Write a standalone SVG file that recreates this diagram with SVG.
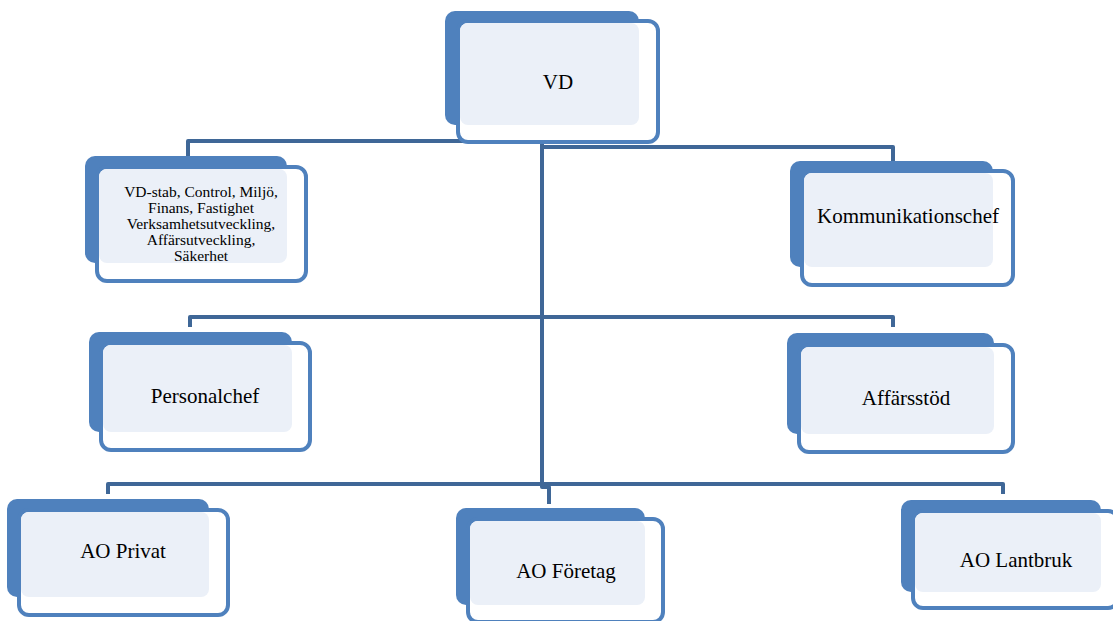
<svg xmlns="http://www.w3.org/2000/svg" width="1113" height="621" viewBox="0 0 1113 621">
<style>
.back{fill:#4f81bd;}
.front{fill:#ffffff;stroke:#4f81bd;stroke-width:4;}
.light{fill:#ebf0f8;}
.conn{fill:none;stroke:#3f6797;stroke-width:4;stroke-linejoin:round;}
text{font-family:"Liberation Serif","Times New Roman",serif;fill:#000;text-anchor:middle;}
.t{font-size:21px;}
.s{font-size:15.5px;}
</style>
<rect width="1113" height="621" fill="#ffffff"/>
<g id="connectors">
<path class="conn" d="M542 141 H188 V157"/>
<path class="conn" d="M542 147 H893 V161"/>
<path class="conn" d="M542 141 V487 H549 V504"/>
<path class="conn" d="M190 327 V317 H893 V327"/>
<path class="conn" d="M108 494 V484 H1003 V494"/>
</g>
<g id="vd">
<rect class="back" x="445" y="11" width="194" height="114" rx="10"/>
<rect class="front" x="458" y="21" width="200" height="121" rx="10"/>
<rect class="light" x="460" y="23" width="179" height="102" rx="8"/>
<text class="t" x="558" y="89">VD</text>
</g>
<g id="vd-stab">
<rect class="back" x="85" y="156" width="202" height="107" rx="10"/>
<rect class="front" x="97" y="167" width="209" height="114" rx="10"/>
<rect class="light" x="99" y="169" width="188" height="94" rx="8"/>
<text class="s" x="201" y="197">VD-stab, Control, Miljö,</text>
<text class="s" x="201" y="213">Finans, Fastighet</text>
<text class="s" x="201" y="229">Verksamhetsutveckling,</text>
<text class="s" x="201" y="245">Affärsutveckling,</text>
<text class="s" x="201" y="261">Säkerhet</text>
</g>
<g id="kommunikationschef">
<rect class="back" x="790" y="161" width="203" height="106" rx="10"/>
<rect class="front" x="802" y="171" width="211" height="114" rx="10"/>
<rect class="light" x="804" y="173" width="189" height="94" rx="8"/>
<text class="t" x="908" y="223">Kommunikationschef</text>
</g>
<g id="personalchef">
<rect class="back" x="89" y="332" width="203" height="100" rx="10"/>
<rect class="front" x="101" y="343" width="209" height="107" rx="10"/>
<rect class="light" x="103" y="345" width="189" height="87" rx="8"/>
<text class="t" x="205" y="403">Personalchef</text>
</g>
<g id="affarsstod">
<rect class="back" x="787" y="333" width="207" height="101" rx="10"/>
<rect class="front" x="799" y="345" width="214" height="107" rx="10"/>
<rect class="light" x="801" y="347" width="193" height="87" rx="8"/>
<text class="t" x="906" y="405">Affärsstöd</text>
</g>
<g id="ao-privat">
<rect class="back" x="7" y="499" width="202" height="98" rx="10"/>
<rect class="front" x="19" y="510" width="209" height="105" rx="10"/>
<rect class="light" x="21" y="512" width="188" height="85" rx="8"/>
<text class="t" x="123" y="558">AO Privat</text>
</g>
<g id="ao-foretag">
<rect class="back" x="456" y="508" width="189" height="97" rx="10"/>
<rect class="front" x="468" y="519" width="195" height="103" rx="10"/>
<rect class="light" x="470" y="521" width="175" height="84" rx="8"/>
<text class="t" x="566" y="578">AO Företag</text>
</g>
<g id="ao-lantbruk">
<rect class="back" x="901" y="500" width="200" height="92" rx="10"/>
<rect class="front" x="913" y="511" width="205" height="97" rx="10"/>
<rect class="light" x="915" y="513" width="186" height="79" rx="8"/>
<text class="t" x="1016" y="567">AO Lantbruk</text>
</g>
</svg>
